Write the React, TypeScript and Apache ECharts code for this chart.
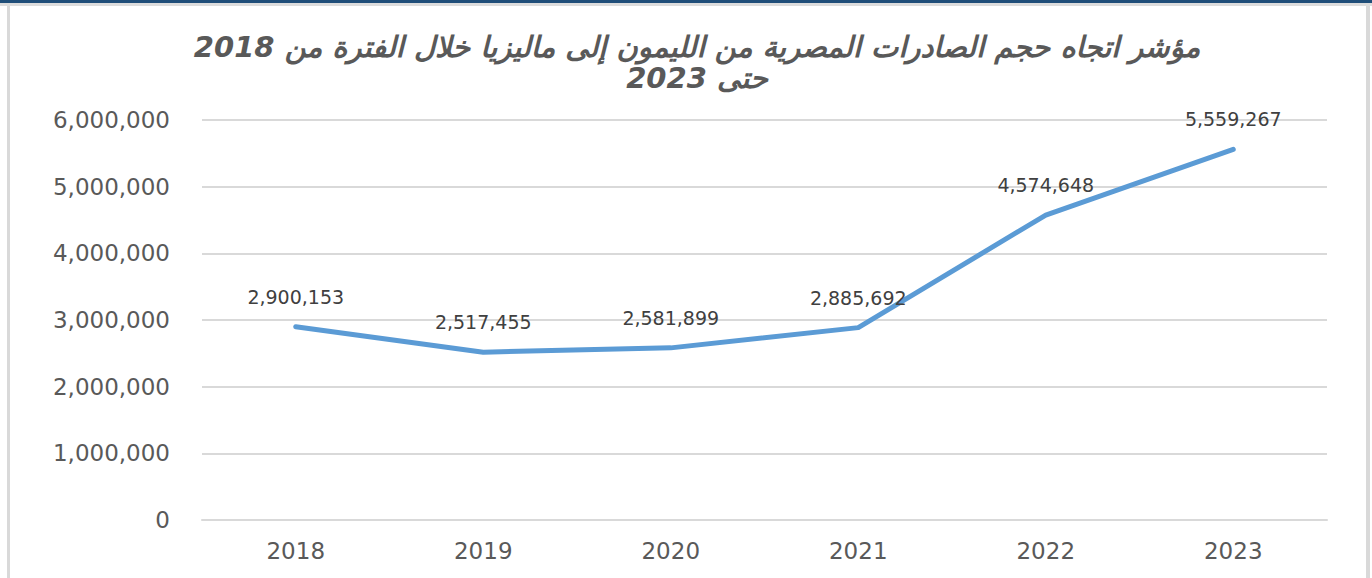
import React, { useEffect, useRef } from "react";
import * as echarts from "echarts";

const titleLine1 = "مؤشر اتجاه حجم الصادرات المصرية من الليمون إلى ماليزيا خلال الفترة من 2018";
const titleLine2 = "2023 حتى";
const years = ["2018", "2019", "2020", "2021", "2022", "2023"];
const exportVolume = [2900153, 2517455, 2581899, 2885692, 4574648, 5559267];
const yTicks = { min: 0, max: 6000000, interval: 1000000 };

const fmt = (v: number) => v.toLocaleString("en-US");

export default function App() {
  const ref = useRef<HTMLDivElement>(null);
  useEffect(() => {
    if (!ref.current) return;
    const chart = echarts.init(ref.current, undefined, { renderer: "svg" });
    chart.setOption({
      animation: false,
      backgroundColor: "#ffffff",
      title: {
        text: titleLine1 + "\n" + titleLine2,
        left: 692,
        textAlign: "center",
        top: 26,
        textStyle: {
          fontFamily: "DejaVu Sans",
          fontSize: 29,
          fontWeight: "bold",
          fontStyle: "italic",
          color: "#595959",
          lineHeight: 31,
        },
      },
      graphic: [
        { type: "rect", shape: { x: 0, y: 0, width: 1372, height: 3 }, style: { fill: "#1f4e79" }, silent: true },
        { type: "rect", shape: { x: 0, y: 3, width: 1372, height: 3 }, style: { fill: "#dcdcdc" }, silent: true },
        { type: "rect", shape: { x: 7, y: 6, width: 3, height: 572 }, style: { fill: "#d9d9d9" }, silent: true },
        { type: "rect", shape: { x: 1366, y: 6, width: 4, height: 572 }, style: { fill: "#d9d9d9" }, silent: true },
      ],
      grid: { left: 202, right: 45, top: 120, bottom: 58, containLabel: false },
      xAxis: {
        type: "category",
        data: years,
        boundaryGap: true,
        axisLine: { show: true, lineStyle: { color: "#d9d9d9", width: 2 } },
        axisTick: { show: false },
        axisLabel: { color: "#595959", fontSize: 23, fontFamily: "DejaVu Sans", margin: 19 },
      },
      yAxis: {
        type: "value",
        min: yTicks.min,
        max: yTicks.max,
        interval: yTicks.interval,
        axisLine: { show: false },
        axisTick: { show: false },
        splitLine: { lineStyle: { color: "#d9d9d9", width: 2 } },
        axisLabel: {
          color: "#595959",
          fontSize: 23,
          fontFamily: "DejaVu Sans",
          margin: 32,
          formatter: (v: number) => fmt(v),
        },
      },
      series: [
        {
          type: "line",
          data: exportVolume,
          showSymbol: true,
          symbol: "circle",
          symbolSize: 1,
          itemStyle: { color: "rgba(0,0,0,0)" },
          lineStyle: { color: "#5b9bd5", width: 5, cap: "round", join: "round" },
          label: {
            show: true,
            position: "top",
            distance: 20,
            color: "#404040",
            fontSize: 19,
            fontFamily: "DejaVu Sans",
            formatter: (p: any) => fmt(p.value),
          },
        },
      ],
    });
    return () => chart.dispose();
  }, []);
  return (
    <div
      ref={ref}
      style={{ position: "absolute", left: 0, top: 0, width: 1372, height: 578 }}
    />
  );
}
